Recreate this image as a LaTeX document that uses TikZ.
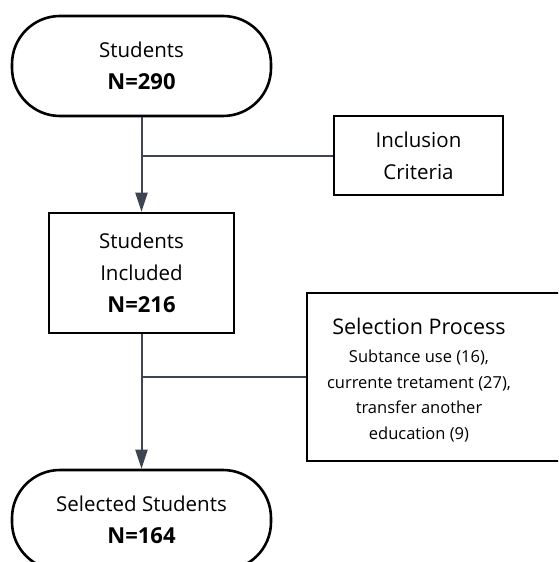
\documentclass[tikz,border=0pt]{standalone}
\usepackage{fontspec}
\setmainfont{Open Sans}
\usetikzlibrary{arrows.meta}
\definecolor{linkgray}{HTML}{3E4550}
\newcommand{\bigN}[1]{{\fontsize{22}{32}\selectfont\textbf{#1}}}

\begin{document}
\begin{tikzpicture}[x=1pt,y=1pt,
        term/.style={draw,line width=2.6pt,rounded corners=48pt,minimum width=259pt,minimum height=100pt,align=center,font=\fontsize{20.5}{32}\selectfont},
        box/.style={draw,line width=2.6pt,align=center,font=\fontsize{20.5}{32}\selectfont},
        link/.style={draw=linkgray,line width=2pt},
        flow/.style={link,-{Triangle[length=19pt,width=12pt]}}]
            \useasboundingbox (0,0) rectangle (558,-562);
            \clip (0,0) rectangle (558,-562);

            \node (stud) at (141.5,-66) [term] {Students\\\bigN{N=290}};
            \node (crit) at (418.5,-155.5) [box,minimum width=169pt,minimum height=79pt] {Inclusion\\Criteria};
            \node (incl) at (141.5,-273) [box,minimum width=185pt,minimum height=120pt] {Students\\Included\\\bigN{N=216}};
            \node (selbox) at (441,-377) [box,minimum width=268pt,minimum height=168pt] {};
            \node (sel) at (419,-380) [align=center,font=\fontsize{16.5}{25.5}\selectfont] {{\fontsize{21.5}{24}\selectfont Selection Process}\\[3pt]Subtance use (16),\\currente tretament (27),\\transfer another\\education (9)};
            \node (last) at (141.5,-520) [term] {Selected Students\\\bigN{N=164}};

            \coordinate (j1) at (stud.south |- crit.west);
            \coordinate (j2) at (incl.south |- selbox.west);
            \draw[flow] (stud) -- (incl);
            \draw[link] (crit.west) -- (j1);
            \draw[flow] (incl) -- (last);
            \draw[link] (selbox.west) -- (j2);
\end{tikzpicture}
\end{document}
